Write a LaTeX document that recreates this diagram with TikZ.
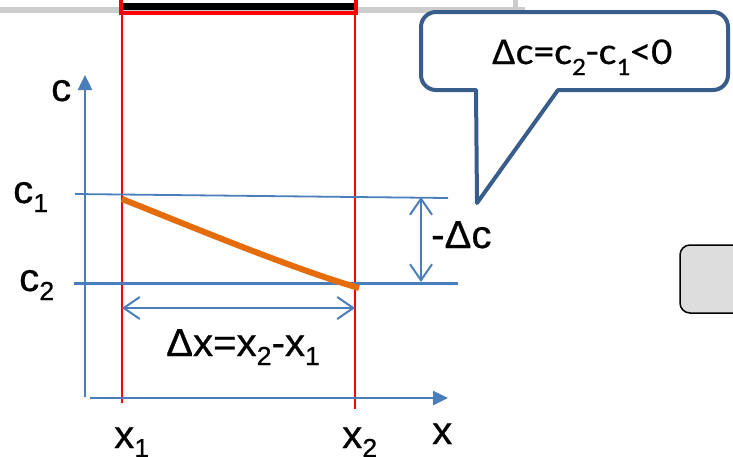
\documentclass[tikz,border=0pt]{standalone}
\usepackage{fontspec}
\setmainfont{Liberation Sans}[FakeStretch=1.03,FakeBold=0.6]
\newfontfamily\bubblefont{Carlito}[FakeStretch=1.1,FakeBold=0.4]
\usetikzlibrary{arrows.meta}
\definecolor{axisblue}{RGB}{74,126,187}
\definecolor{bubbleblue}{RGB}{56,93,138}
\definecolor{curveorange}{RGB}{228,108,10}
\definecolor{topgray}{RGB}{204,204,204}
\definecolor{boxgray}{RGB}{221,221,221}
\newcommand\lowsub[1]{\raisebox{-9pt}{\fontsize{26}{26}\selectfont #1}}
\newcommand\bsub[1]{\raisebox{-11pt}{\fontsize{25}{25}\selectfont #1}}
\begin{document}
\begin{tikzpicture}[x=1pt,y=-1pt,
  every node/.style={inner sep=0pt, font=\fontsize{39}{44}\selectfont},
  axisline/.style={draw=axisblue, line width=2.5pt, -{Triangle[length=15pt,width=14pt]}},
  levelline/.style={draw=axisblue},
  redline/.style={draw=red, line width=2pt},
  dimarrow/.style={draw=axisblue, line width=2pt,
    {Straight Barb[length=16pt,width=22pt,line width=2pt]}-{Straight Barb[length=16pt,width=22pt,line width=2pt]}},
  bubble/.style={draw=bubbleblue, line width=4pt, fill=white, line join=round},
  label/.style={anchor=base west}]
\useasboundingbox (0,0) rectangle (733,456);
% top strip
\draw[topgray, line width=6pt] (0,10) -- (525,10);
\draw[topgray, line width=5pt] (515,0) -- (515,8);
\fill[black] (121,3) rectangle (358,10);
\draw[red, line width=4pt] (121,0) -- (121,12.5) -- (356,12.5) -- (356,0);
% coordinates
\coordinate (x1top) at (122,12);
\coordinate (x1bot) at (122,403);
\coordinate (x2top) at (355,12);
\coordinate (x2bot) at (355,409);
\coordinate (yaxbot) at (85,397);
\coordinate (yaxtop) at (85,75);
\coordinate (xaxl) at (90,398);
\coordinate (xaxr) at (448,398);
\coordinate (c1l) at (75,194);
\coordinate (c1r) at (448,198);
\coordinate (c2l) at (74,283);
\coordinate (c2r) at (458,283);
\coordinate (cstart) at (122,199);
\coordinate (cend) at (359,288);
\coordinate (dcTop) at (421,197);
\coordinate (dcBot) at (421,282);
\coordinate (dxL) at (122,308);
\coordinate (dxR) at (355,308);
% red verticals
\draw[redline] (x1top) -- (x1bot);
\draw[redline] (x2top) -- (x2bot);
% axes
\draw[axisline] (yaxbot) -- (yaxtop);
\draw[axisline] (xaxl) -- (xaxr);
% level lines
\draw[levelline, line width=1.8pt] (c1l) -- (c1r);
\draw[levelline, line width=3pt] (c2l) -- (c2r);
% curve
\draw[curveorange, line width=6pt] (cstart) .. controls (180,222) and (290,268) .. (cend);
% dimension arrows
\draw[dimarrow] (dcTop) -- (dcBot);
\draw[dimarrow] (dxL) -- (dxR);
% labels
\node[label] (lc) at (51,101) {c};
\node[label] (lc1) at (13,203) {c\lowsub{1}};
\node[label] (lc2) at (19,291) {c\lowsub{2}};
\node[label] (lx1) at (114,448) {x\lowsub{1}};
\node[label] (lx2) at (342,448) {x\lowsub{2}};
\node[label] (lx) at (432,444) {x};
\node[label] (ldx) at (166,356) {Δx=x\lowsub{2}-x\lowsub{1}};
\node[label] (ldc) at (431,248) {-Δc};
% callout
\draw[bubble] (476,90) -- (477,203) -- (558,90) [rounded corners=15pt] -- (728,90) -- (728,12) -- (421,12) -- (421,90) [sharp corners] -- cycle;
\node[label, font=\bubblefont\fontsize{38}{42}\selectfont] (ltxt) at (492,64) {Δc=c\bsub{2}-c\bsub{1}<0};
% gray box
\draw[fill=boxgray, draw=black, line width=1.5pt, rounded corners=10pt] (680,245) rectangle (748,313);
\end{tikzpicture}
\end{document}
